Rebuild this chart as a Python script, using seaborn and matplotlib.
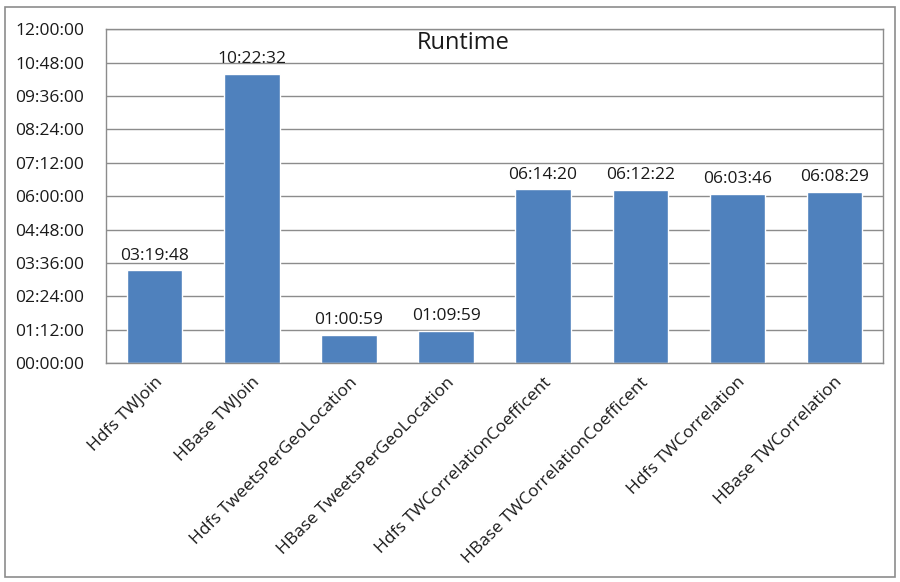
import seaborn as sns
import matplotlib.pyplot as plt
import pandas as pd
from matplotlib.ticker import FuncFormatter, MultipleLocator
from matplotlib.patches import Rectangle

# --- data ---
jobs = ['Hdfs TWJoin', 'HBase TWJoin', 'Hdfs TweetsPerGeoLocation',
        'HBase TweetsPerGeoLocation', 'Hdfs TWCorrelationCoefficent',
        'HBase TWCorrelationCoefficent', 'Hdfs TWCorrelation', 'HBase TWCorrelation']
runtimes = ['03:19:48', '10:22:32', '01:00:59', '01:09:59',
            '06:14:20', '06:12:22', '06:03:46', '06:08:29']


def to_sec(s):
    h, m, sec = (int(p) for p in s.split(':'))
    return h * 3600 + m * 60 + sec


def fmt_hms(v, pos=None):
    v = int(round(v))
    return f"{v // 3600:02d}:{(v % 3600) // 60:02d}:{v % 60:02d}"


df = pd.DataFrame({'job': jobs, 'seconds': [to_sec(t) for t in runtimes]})

sns.set_style('white')
plt.rcParams['font.family'] = ['Open Sans', 'DejaVu Sans']

fig = plt.figure(figsize=(9, 5.82), dpi=100)
ax = fig.add_axes([0.118, 0.376, 0.863, 0.574])

sns.barplot(data=df, x='job', y='seconds', color='#4F81BD', saturation=1,
            width=0.57, ax=ax)

ax.set_ylim(0, 43200)
ax.yaxis.set_major_locator(MultipleLocator(4320))
ax.yaxis.set_major_formatter(FuncFormatter(fmt_hms))
ax.grid(axis='y', color='#8c8c8c', linewidth=1)
ax.set_axisbelow(True)
for side in ['top', 'right', 'bottom', 'left']:
    ax.spines[side].set_color('#8c8c8c')
    ax.spines[side].set_linewidth(1)

ax.set_xlabel('')
ax.set_ylabel('')
ax.tick_params(axis='y', labelsize=12.5, length=0, pad=16, colors='#1a1a1a')
ax.tick_params(axis='x', length=0, pad=8, colors='#1a1a1a')
ax.set_xticks(range(len(jobs)))
ax.set_xticklabels(jobs, rotation=45, ha='right', rotation_mode='anchor', fontsize=12.5)

ax.bar_label(ax.containers[0], labels=runtimes, padding=5, fontsize=12.5, color='#1a1a1a')

ax.text(0.46, 0.995, 'Runtime', transform=ax.transAxes, ha='center', va='top',
        fontsize=17, color='#1a1a1a')

# border around the whole chart
fig.patches.append(Rectangle((0.006, 0.009), 0.988, 0.979, transform=fig.transFigure,
                             fill=False, edgecolor='#8c8c8c', linewidth=1.2))

plt.savefig('out.png', dpi=100)
